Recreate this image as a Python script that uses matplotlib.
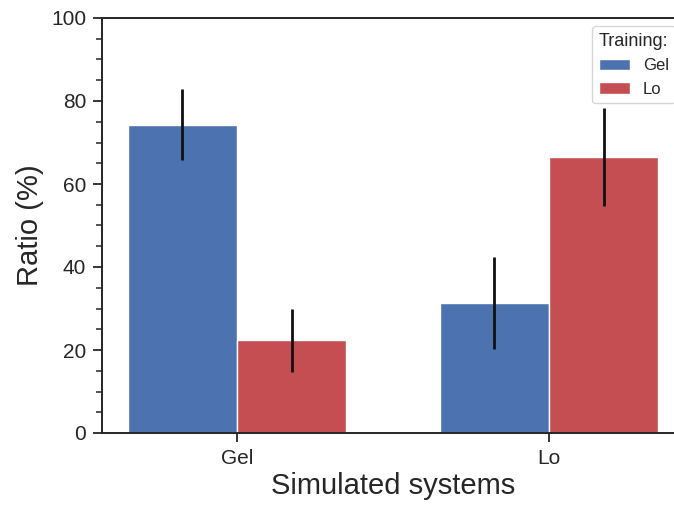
import matplotlib
matplotlib.use("Agg")
import matplotlib.pyplot as plt
import numpy as np
from matplotlib.ticker import MultipleLocator

# data
systems = ["Gel", "Lo"]
training = ["Gel", "Lo"]
ratio_gel_trained = [74.3, 31.3]
ratio_lo_trained = [22.3, 66.4]
err_gel_trained = [8.5, 11.1]
err_lo_trained = [7.5, 11.8]

colors = ["#4C72B0", "#C44E52"]

plt.rcParams["font.family"] = ["Liberation Sans", "DejaVu Sans"]
plt.rcParams["axes.edgecolor"] = "#262626"
plt.rcParams["xtick.color"] = "#262626"
plt.rcParams["ytick.color"] = "#262626"
plt.rcParams["text.color"] = "#262626"
plt.rcParams["axes.labelcolor"] = "#262626"

fig = plt.figure(figsize=(6.74, 5.08), dpi=100)
ax = fig.add_axes([102 / 674, 75 / 508, 582 / 674, 415 / 508])

x = np.arange(len(systems))
w = 0.35
series = [ratio_gel_trained, ratio_lo_trained]
errs = [err_gel_trained, err_lo_trained]
for i, (vals, err, lab, c) in enumerate(zip(series, errs, training, colors)):
    pos = x + (i - 0.5) * w
    ax.bar(pos, vals, width=w, color=c, edgecolor="white", linewidth=1.0,
           label=lab, zorder=2)
    ax.errorbar(pos, vals, yerr=err, fmt="none", ecolor="#111111",
                elinewidth=2.0, capsize=0, zorder=3)

ax.set_xlim(-0.433, 1.433)
ax.set_ylim(0, 100)
ax.set_xticks(x)
ax.set_xticklabels(systems)
ax.yaxis.set_major_locator(MultipleLocator(20))
ax.yaxis.set_minor_locator(MultipleLocator(5))

for s in ax.spines.values():
    s.set_linewidth(1.4)

ax.tick_params(axis="both", which="major", labelsize=15, length=6.5, width=1.3,
               pad=5)
ax.tick_params(axis="y", which="minor", length=4.5, width=1.1)

ax.set_xlabel("Simulated systems", fontsize=21, labelpad=3)
ax.set_ylabel("Ratio (%)", fontsize=21, labelpad=5)

leg = ax.legend(title="Training:", fontsize=12, title_fontsize=13,
                loc="upper right", frameon=True, fancybox=True,
                handlelength=1.85)
leg.get_frame().set_edgecolor("#cccccc")
leg.get_frame().set_linewidth(1.0)
leg._legend_box.align = "left"

fig.savefig("out.png", dpi=100)
plt.close(fig)
